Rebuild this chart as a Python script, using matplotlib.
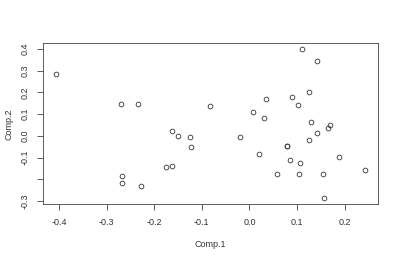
import numpy as np
import matplotlib
matplotlib.use("Agg")
import matplotlib.pyplot as plt

# scores
comp1 = [-0.407, -0.270, -0.234, -0.162, -0.149, -0.125, -0.122, -0.176, -0.162,
         -0.267, -0.267, -0.228, 0.111, 0.141, -0.083, 0.034, 0.008, 0.031,
         -0.019, 0.090, 0.102, 0.126, 0.130, 0.169, 0.165, 0.142, 0.125,
         0.079, 0.079, 0.019, 0.085, 0.107, 0.189, 0.243, 0.058, 0.105,
         0.155, 0.156]
comp2 = [0.286, 0.147, 0.148, 0.023, 0.000, -0.005, -0.052, -0.144, -0.141,
         -0.187, -0.219, -0.231, 0.398, 0.344, 0.136, 0.168, 0.110, 0.083,
         -0.005, 0.179, 0.141, 0.200, 0.061, 0.049, 0.037, 0.011, -0.020,
         -0.047, -0.047, -0.086, -0.112, -0.125, -0.096, -0.158, -0.177, -0.177,
         -0.177, -0.288]

xticks = [-0.4, -0.3, -0.2, -0.1, 0.0, 0.1, 0.2]
yticks = [-0.3, -0.2, -0.1, 0.0, 0.1, 0.2, 0.3, 0.4]
ylabels = ["-0.3", "", "-0.1", "0.0", "0.1", "0.2", "0.3", "0.4"]

plt.rcParams['font.family'] = ['Liberation Sans', 'DejaVu Sans']
fig = plt.figure(figsize=(4, 2.59), dpi=100)
ax = fig.add_axes([0.108, 0.211, 0.836, 0.622])

ax.plot(comp1, comp2, 'o', mfc='none', mec='#333333', mew=0.6, ms=3.4)

x = np.array(comp1)
y = np.array(comp2)
dx = (x.max() - x.min()) * 0.04
dy = (y.max() - y.min()) * 0.04
ax.set_xlim(x.min() - dx, x.max() + dx)
ax.set_ylim(y.min() - dy, y.max() + dy)

ax.set_xticks(xticks)
ax.set_xticklabels(["%.1f" % t for t in xticks])
ax.set_yticks(yticks)
ax.set_yticklabels(ylabels, rotation=90, va='center')

for s in ax.spines.values():
    s.set_color('#444444')
    s.set_linewidth(0.6)
ax.tick_params(length=4, width=0.6, color='#444444', labelsize=6.5,
               labelcolor='#333333', pad=6)

ax.set_xlabel("Comp.1", fontsize=6.5, color='#333333', labelpad=9)
ax.set_ylabel("Comp.2", fontsize=6.5, color='#333333', labelpad=5)

fig.savefig("out.png", dpi=100)
